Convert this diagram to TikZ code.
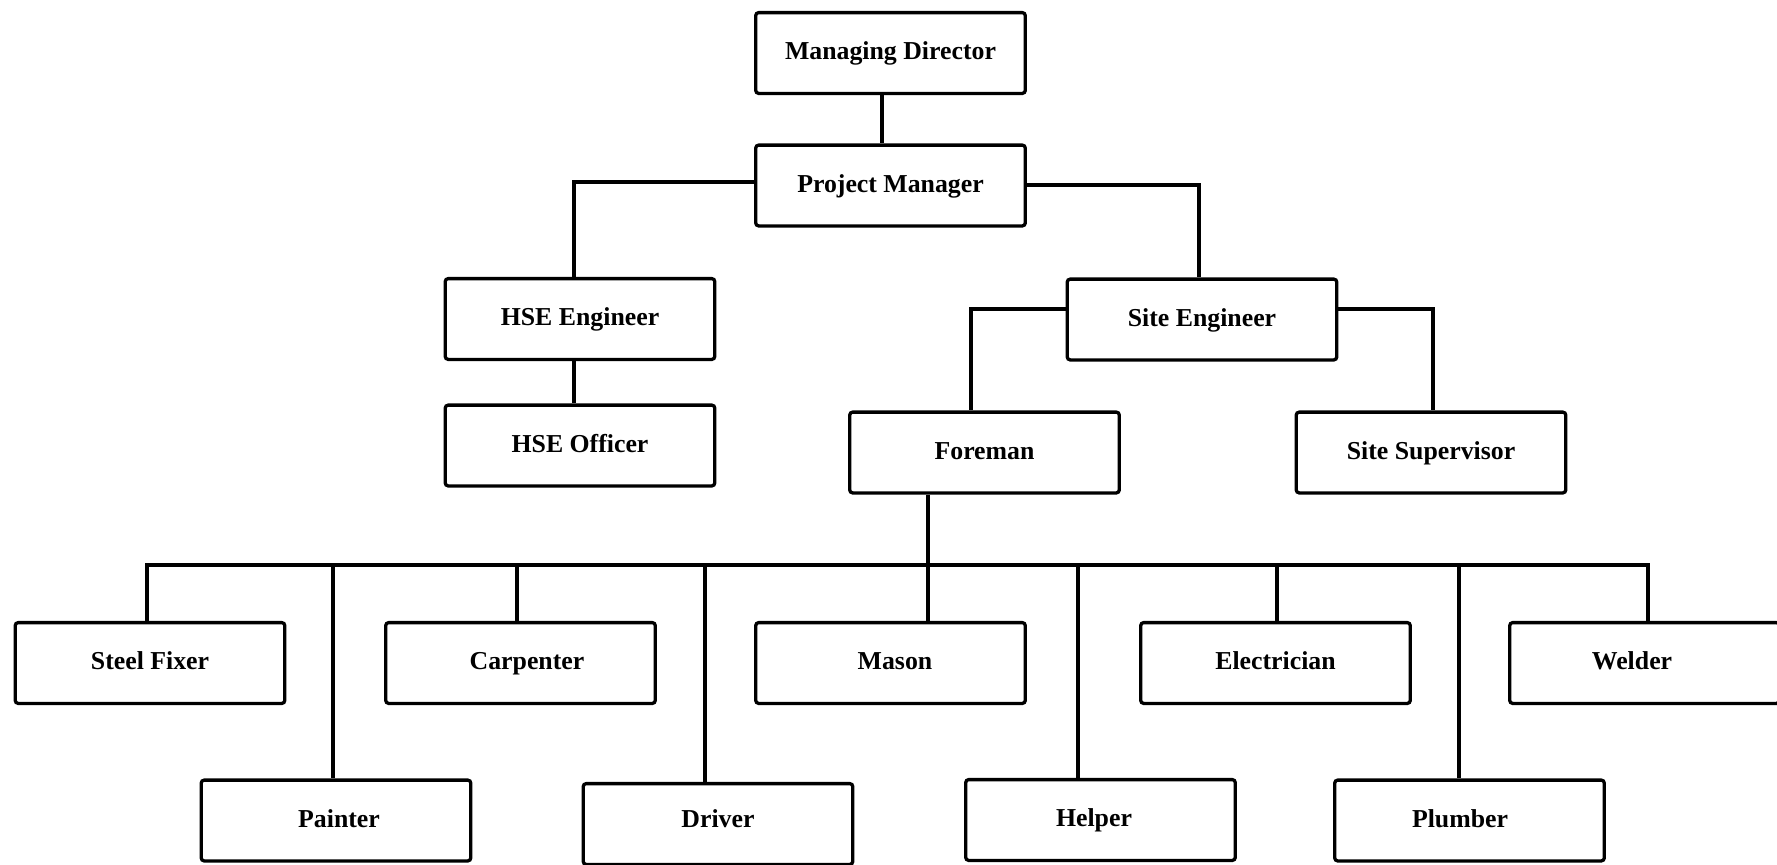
\documentclass[tikz,border=0pt]{standalone}
\usepackage{fontspec}
\setmainfont{Liberation Serif}
\begin{document}
\begin{tikzpicture}[x=0.5pt,y=-0.5pt,
  box/.style={draw, line width=1.65pt, rounded corners=1.5pt, inner sep=0pt,
    minimum width=134.8pt, minimum height=40.4pt, align=center,
    font=\fontsize{12.9}{15}\selectfont\bfseries, text height=0.66em, text depth=0pt},
  conn/.style={line width=1.6pt, line join=miter}]
\useasboundingbox (0,0) rectangle (1777,864);
% nodes
\node[box] (md) at (890.5,53) {Managing Director};
\node[box] (pm) at (890.5,185.5) {Project Manager};
\node[box] (hse) at (580,319) {HSE Engineer};
\node[box] (hso) at (580,445.5) {HSE Officer};
\node[box] (se) at (1202,319.5) {Site Engineer};
\node[box] (fm) at (984.5,452.5) {Foreman};
\node[box] (ss) at (1431,452.5) {Site Supervisor};
\node[box] (sf) at (150,663) {Steel Fixer};
\node[box] (ca) at (520.5,663) {\hspace*{6.5pt}Carpenter};
\node[box] (ma) at (890.5,663) {\hspace*{4.5pt}Mason};
\node[box] (el) at (1275.5,663) {Electrician};
\node[box] (we) at (1644.5,663) {\hspace*{-12.5pt}Welder};
\node[box] (pa) at (336,820.5) {\hspace*{3pt}Painter};
\node[box] (dr) at (718,824) {\raisebox{1.5pt}{Driver}};
\node[box] (he) at (1100.5,820) {\hspace*{-6.5pt}Helper};
\node[box] (pl) at (1469.5,820.5) {\hspace*{-9.5pt}Plumber};
% bend coordinates
\coordinate (cMD) at (882,0);
\coordinate (cL) at (574,182);
\coordinate (cR) at (1199,185);
\coordinate (sL) at (971,309);
\coordinate (sR) at (1433,309);
\coordinate (dSF) at (147,565);
\coordinate (dPA) at (333,565);
\coordinate (dCA) at (517,565);
\coordinate (dDR) at (705,565);
\coordinate (dMA) at (928,565);
\coordinate (dHE) at (1078,565);
\coordinate (dEL) at (1277,565);
\coordinate (dPL) at (1459,565);
\coordinate (dWE) at (1648,565);
% connectors
\draw[conn] (md.south -| cMD) -- (pm.north -| cMD);
\draw[conn] (pm.west |- cL) -- (cL) -- (hse.north -| cL);
\draw[conn] (pm.east |- cR) -- (cR) -- (se.north -| cR);
\draw[conn] (hse.south -| cL) -- (hso.north -| cL);
\draw[conn] (se.west |- sL) -- (sL) -- (fm.north -| sL);
\draw[conn] (se.east |- sR) -- (sR) -- (ss.north -| sR);
\draw[conn] (fm.south -| dMA) -- (ma.north -| dMA);
\draw[conn] (sf.north -| dSF) -- (dSF) -- (dWE) -- (we.north -| dWE);
\draw[conn] (dPA) -- (pa.north -| dPA);
\draw[conn] (dCA) -- (ca.north -| dCA);
\draw[conn] (dDR) -- (dr.north -| dDR);
\draw[conn] (dHE) -- (he.north -| dHE);
\draw[conn] (dEL) -- (el.north -| dEL);
\draw[conn] (dPL) -- (pl.north -| dPL);
\end{tikzpicture}
\end{document}
